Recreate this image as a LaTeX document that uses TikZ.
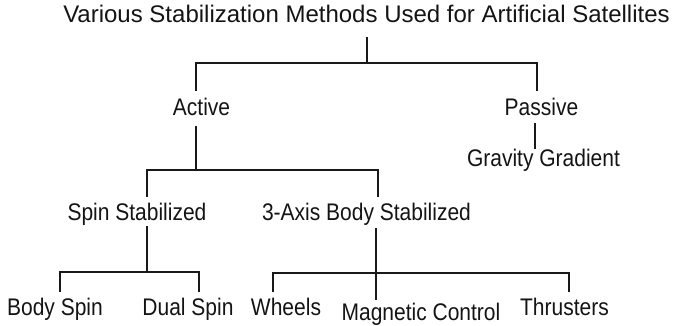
\documentclass[tikz,border=0pt]{standalone}
\usepackage{fontspec}
\setmainfont{Liberation Sans}
\newfontfamily\labfont[FakeStretch=0.875]{Liberation Sans}
\begin{document}
\begin{tikzpicture}[x=1pt,y=-1pt,
  lbl/.style={anchor=base,inner sep=0pt,text=black!92,font=\labfont\fontsize{24}{28}\selectfont},
  ttl/.style={anchor=base,inner sep=0pt,text=black!92,font=\fontsize{24}{28}\selectfont},
  conn/.style={line width=2.2pt,draw=black!90,line join=miter}]
\useasboundingbox (0,0) rectangle (673,326);
% labels
\node[ttl] (title) at (366.5,23) {Various Stabilization Methods Used for Artificial Satellites};
\node[lbl] (active) at (201.5,116) {Active};
\node[lbl] (passive) at (541.5,116) {Passive};
\node[lbl] (grav) at (543.5,167) {Gravity Gradient};
\node[lbl] (spin) at (137,221) {Spin Stabilized};
\node[lbl] (axis) at (366.5,221) {3-Axis Body Stabilized};
\node[lbl] (body) at (55,316) {Body Spin};
\node[lbl] (dual) at (188,316) {Dual Spin};
\node[lbl] (wheels) at (286,316) {Wheels};
\node[lbl] (mag) at (421,320) {Magnetic Control};
\node[lbl] (thr) at (564.5,316) {Thrusters};
% connector points
\coordinate (tS) at (366.7,37);
\coordinate (tJ) at (366.7,63);
\coordinate (aT) at (196,91);
\coordinate (pT) at (537,91);
\coordinate (aB) at (196,126);
\coordinate (aJ) at (196,170);
\coordinate (sT) at (147,197);
\coordinate (xT) at (378,197);
\coordinate (pB) at (535,123);
\coordinate (gT) at (535,149);
\coordinate (sB) at (147,226);
\coordinate (sJ) at (147,272);
\coordinate (bT) at (60,292);
\coordinate (dT) at (199,292);
\coordinate (xB) at (376,228);
\coordinate (xJ) at (376,273);
\coordinate (wT) at (273,292);
\coordinate (mT) at (376,300);
\coordinate (hT) at (569,292);
% connectors
\draw[conn] (tS) -- (tJ);
\draw[conn] (aT) -- (aT |- tJ) -- (pT |- tJ) -- (pT);
\draw[conn] (pB) -- (gT);
\draw[conn] (aB) -- (aJ);
\draw[conn] (sT) -- (sT |- aJ) -- (xT |- aJ) -- (xT);
\draw[conn] (sB) -- (sJ);
\draw[conn] (bT) -- (bT |- sJ) -- (dT |- sJ) -- (dT);
\draw[conn] (xB) -- (mT);
\draw[conn] (wT) -- (wT |- xJ) -- (hT |- xJ) -- (hT);
\end{tikzpicture}
\end{document}
